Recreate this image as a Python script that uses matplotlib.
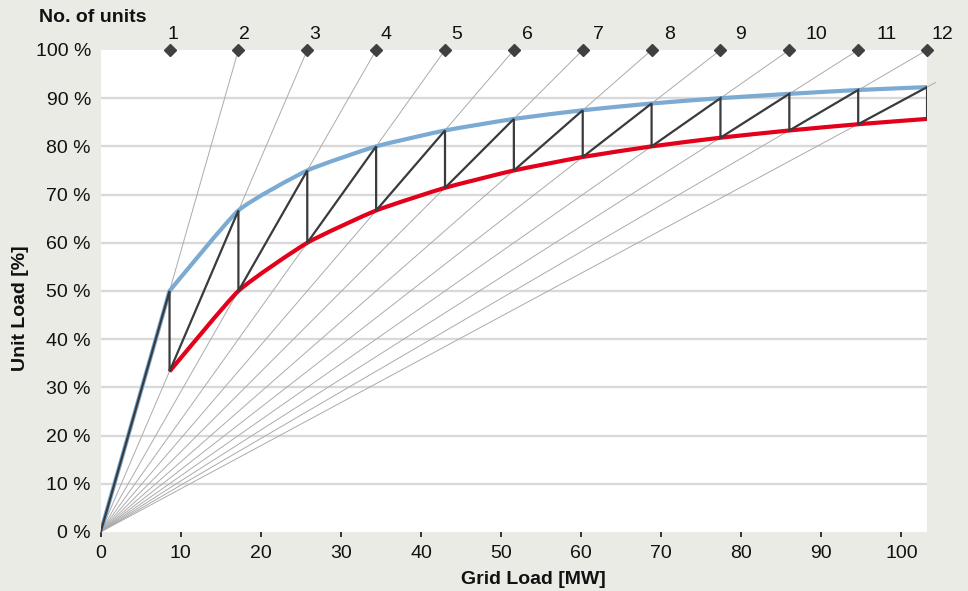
import matplotlib.pyplot as plt
import numpy as np
from matplotlib.patches import PathPatch
from matplotlib.path import Path
from matplotlib.transforms import ScaledTranslation

plt.rcParams["font.family"] = ["Liberation Sans", "DejaVu Sans"]

# switching points: grid load [MW] where one more unit is started
grid_mw = [8.6, 17.2, 25.8, 34.4, 43.0, 51.6, 60.2, 68.8, 77.4, 86.0, 94.6, 103.2]
unit_no = [1, 2, 3, 4, 5, 6, 7, 8, 9, 10, 11, 12]
# unit load just before / just after the switch [%]
upper_load = [50.0, 66.7, 75.0, 80.0, 83.3, 85.7, 87.5, 88.9, 90.0, 90.9, 91.7, 92.3]
lower_load = [33.3, 50.0, 60.0, 66.7, 71.4, 75.0, 77.8, 80.0, 81.8, 83.3, 84.6, 85.7]
# construction rays: n units sharing the grid load
ray_units = [2, 3, 4, 5, 6, 7, 8, 9, 10, 11, 12, 13]
UNIT_MW = 8.6

x_ticks = [0, 10, 20, 30, 40, 50, 60, 70, 80, 90, 100]
y_ticks = [0, 10, 20, 30, 40, 50, 60, 70, 80, 90, 100]

BG = "#eaebe5"
BLUE = "#7baad3"
RED = "#e2001a"
DARK = "#3a3b3d"
RAY = "#ababab"
GRID = "#d9d9d9"


def smooth_path(xs, ys, start=None, t=0.08):
    # lightly smoothed line through the points (bezier, catmull-rom tangents)
    pts = np.column_stack([xs, ys]).astype(float)
    verts, codes = [], []
    if start is not None:
        verts += [start, pts[0]]
        codes += [Path.MOVETO, Path.LINETO]
    else:
        verts.append(pts[0])
        codes.append(Path.MOVETO)
    for i in range(len(pts) - 1):
        p0 = pts[i - 1] if i > 0 else pts[i]
        p1, p2 = pts[i], pts[i + 1]
        p3 = pts[i + 2] if i + 2 < len(pts) else pts[i + 1]
        verts += [p1 + (p2 - p0) * t, p2 - (p3 - p1) * t, p2]
        codes += [Path.CURVE4] * 3
    return Path(verts, codes)


fig = plt.figure(figsize=(9.68, 5.91), dpi=100, facecolor=BG)
ax = fig.add_axes([0.104, 0.1, 0.8537, 0.8154])
ax.set_facecolor("white")
for s in ax.spines.values():
    s.set_visible(False)

ax.set_xlim(0, 103.2)
ax.set_ylim(0, 100)

for y in y_ticks[1:-1]:
    ax.axhline(y, color=GRID, lw=1.7, zorder=1)

# rays from origin
for n in ray_units:
    xe = n * UNIT_MW if n <= 12 else 104.3
    ax.plot([0, xe], [0, 100 * xe / (n * UNIT_MW)], color=RAY, lw=0.7,
            zorder=2, clip_on=False, solid_capstyle="butt")

ax.add_patch(PathPatch(smooth_path(grid_mw, upper_load, start=(0, 0)), fill=False,
                       edgecolor=BLUE, lw=3.0, zorder=3, joinstyle="round",
                       capstyle="butt"))
ax.add_patch(PathPatch(smooth_path(grid_mw, lower_load), fill=False,
                       edgecolor=RED, lw=3.0, zorder=3, joinstyle="round",
                       capstyle="butt"))

zx, zy = [0], [0]
for x, u, l in zip(grid_mw, upper_load, lower_load):
    zx += [x, x]
    zy += [u, l]
ax.plot(zx, zy, color=DARK, lw=1.6, zorder=4, solid_joinstyle="miter")

# unit markers on top
ax.plot(grid_mw, [100] * len(grid_mw), ls="none", marker="D", ms=6.2,
        color="#404040", zorder=5, clip_on=False)
lift = ax.transData + ScaledTranslation(0, 10.5 / 100, fig.dpi_scale_trans)
for i, n in enumerate(unit_no):
    lx = min(8.4 + 8.85 * i, 103.8)
    ax.text(lx, 100, str(n), ha="left", va="baseline", fontsize=14,
            color="#111111", transform=lift, clip_on=False)

ax.set_xticks(x_ticks)
ax.set_yticks(y_ticks)
ax.set_yticklabels([f"{v} %" for v in y_ticks])
ax.tick_params(axis="x", length=3.3, width=1.4, color="#333333", pad=6,
               labelsize=14, labelcolor="#111111")
ax.tick_params(axis="y", length=0, pad=7, labelsize=14, labelcolor="#111111")

fig.text(21 / 968, 1 - 308 / 591, "Unit Load [%]", rotation=90, ha="center",
         va="center", fontsize=14, fontweight="bold", color="#111111")
fig.text(533 / 968, 1 - 580 / 591, "Grid Load [MW]", ha="center", va="center",
         fontsize=14, fontweight="bold", color="#111111")
fig.text(39 / 968, 1 - 17 / 591, "No. of units", ha="left", va="center",
         fontsize=14, fontweight="bold", color="#111111")

fig.savefig("out.png", dpi=100, facecolor=BG)
